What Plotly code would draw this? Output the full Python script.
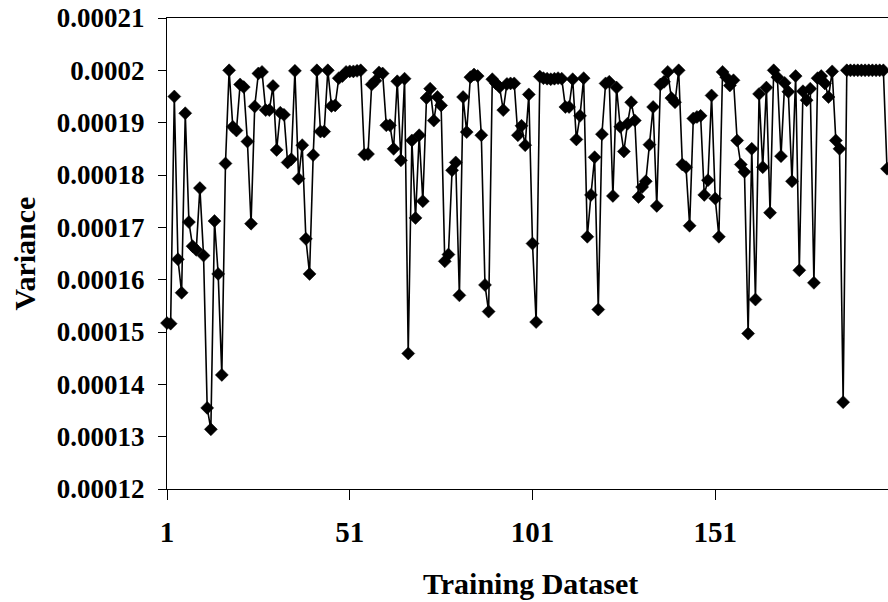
import plotly.graph_objects as go

# Variance values (in units of 1e-5) for training datasets 1..198
variance_e5 = [
    15.17, 15.16, 19.50, 16.39, 15.75, 19.18, 17.10, 16.64, 16.57, 17.75,
    16.46, 13.55, 13.14, 17.12, 16.11, 14.18, 18.22, 20.00, 18.92, 18.85,
    19.73, 19.68, 18.64, 17.07, 19.31, 19.94, 19.97, 19.24, 19.24, 19.70,
    18.48, 19.19, 19.15, 18.24, 18.30, 19.99, 17.93, 18.57, 16.78, 16.11,
    18.38, 20.00, 18.83, 18.83, 20.00, 19.32, 19.33, 19.85, 19.89, 19.97,
    19.98, 19.98, 19.99, 20.00, 18.39, 18.40, 19.73, 19.80, 19.96, 19.94,
    18.95, 18.95, 18.50, 19.79, 18.28, 19.84, 14.59, 18.66, 17.18, 18.76,
    17.50, 19.47, 19.65, 19.04, 19.49, 19.33, 16.35, 16.48, 18.09, 18.24,
    15.70, 19.49, 18.82, 19.87, 19.92, 19.89, 18.76, 15.90, 15.39, 19.83,
    19.75, 19.68, 19.24, 19.74, 19.75, 19.75, 18.76, 18.94, 18.57, 19.54,
    16.69, 15.19, 19.88, 19.85, 19.84, 19.83, 19.84, 19.85, 19.84, 19.30,
    19.30, 19.83, 18.68, 19.13, 19.85, 16.82, 17.62, 18.34, 15.43, 18.78,
    19.75, 19.78, 17.60, 19.67, 18.92, 18.45, 18.98, 19.39, 19.04, 17.58,
    17.77, 17.88, 18.58, 19.30, 17.41, 19.73, 19.78, 19.97, 19.47, 19.39,
    20.00, 18.20, 18.15, 17.03, 19.08, 19.11, 19.13, 17.62, 17.90, 19.52,
    17.55, 16.82, 19.97, 19.87, 19.71, 19.81, 18.66, 18.20, 18.06, 14.97,
    18.50, 15.62, 19.55, 18.15, 19.67, 17.28, 20.00, 19.87, 18.36, 19.76,
    19.59, 17.88, 19.89, 16.18, 19.60, 19.43, 19.65, 15.94, 19.85, 19.89,
    19.75, 19.49, 19.98, 18.66, 18.50, 13.66, 20.00, 20.00, 20.00, 20.00,
    20.00, 20.00, 20.00, 20.00, 20.00, 20.00, 20.00, 18.12,
]
variance = [v * 1e-5 for v in variance_e5]
dataset_index = list(range(1, len(variance) + 1))

y_tick_vals = [0.00012, 0.00013, 0.00014, 0.00015, 0.00016, 0.00017,
               0.00018, 0.00019, 0.0002, 0.00021]
y_tick_text = ["0.00012", "0.00013", "0.00014", "0.00015", "0.00016",
               "0.00017", "0.00018", "0.00019", "0.0002", "0.00021"]
x_tick_vals = [1, 51, 101, 151, 201]
x_tick_text = ["1", "51", "101", "151", "201"]

FONT = "Liberation Serif, Times New Roman, serif"

fig = go.Figure()
fig.add_trace(go.Scatter(
    x=dataset_index, y=variance, mode="lines+markers",
    line=dict(color="black", width=1.6),
    marker=dict(symbol="diamond", size=10, color="black",
                line=dict(color="black", width=0.5)),
    cliponaxis=False, showlegend=False,
))

fig.update_layout(
    width=888, height=602, autosize=False,
    margin=dict(l=167, r=0, t=18, b=113),
    paper_bgcolor="white", plot_bgcolor="white",
    font=dict(family=FONT, color="black"),
    xaxis=dict(
        range=[1, 198.27], tickmode="array", tickvals=x_tick_vals,
        ticktext=x_tick_text, ticks="outside", ticklen=10, tickwidth=1,
        tickcolor="black", showline=True, linecolor="black", linewidth=1,
        mirror=True, showgrid=False, zeroline=False,
        tickfont=dict(family=FONT, size=29, weight="bold", color="black"),
        ticklabelstandoff=7,
    ),
    yaxis=dict(
        range=[0.00012, 0.00021], tickmode="array", tickvals=y_tick_vals,
        ticktext=y_tick_text, ticks="outside", ticklen=8, tickwidth=1,
        tickcolor="black", showline=True, linecolor="black", linewidth=1,
        showgrid=False, zeroline=False,
        tickfont=dict(family=FONT, size=27, weight="bold", color="black"),
        ticklabelstandoff=8,
    ),
    annotations=[
        dict(text="Training Dataset", xref="paper", yref="paper",
             x=(530 - 167) / 721, y=(489 - 583) / 471,
             xanchor="center", yanchor="middle", showarrow=False,
             font=dict(family=FONT, size=30, weight="bold", color="black")),
        dict(text="Variance", xref="paper", yref="paper",
             x=(24 - 167) / 721, y=0.5, textangle=-90,
             xanchor="center", yanchor="middle", showarrow=False,
             font=dict(family=FONT, size=30, weight="bold", color="black")),
    ],
)

fig.write_html("out.html")
